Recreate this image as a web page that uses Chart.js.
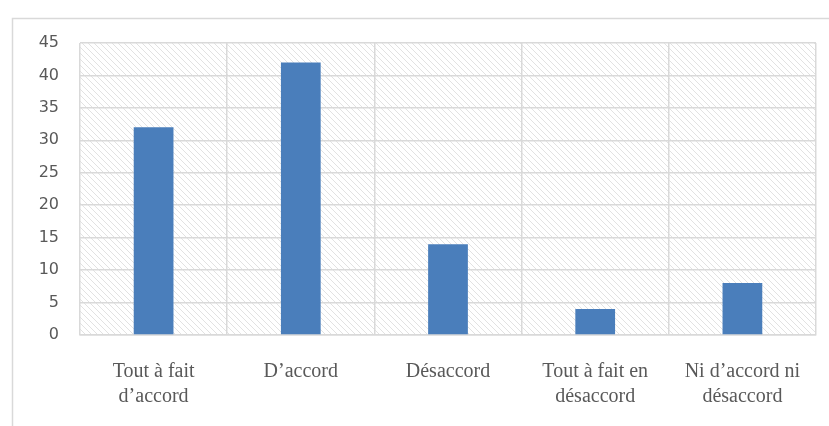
<!DOCTYPE html>
<html>
<head>
<meta charset="utf-8">
<script src="https://cdn.jsdelivr.net/npm/chart.js@4/dist/chart.umd.min.js"></script>
<style>
  html, body { margin: 0; padding: 0; background: #fff; }
  #wrap { width: 829px; height: 426px; position: relative; }
</style>
</head>
<body>
<div id="wrap"><canvas id="chart"></canvas></div>
<script>
var categories = [
    ["Tout à fait", "d’accord"],
    "D’accord",
    "Désaccord",
    ["Tout à fait en", "désaccord"],
    ["Ni d’accord ni", "désaccord"]
];
var values = [32, 42, 14, 4, 8];
var yTicks = [0, 5, 10, 15, 20, 25, 30, 35, 40, 45];

// hatched plot background + outer frame
var backdrop = {
    id: 'backdrop',
    beforeDraw: function(chart) {
        var ctx = chart.ctx, a = chart.chartArea;
        ctx.save();
        // outer frame (top and left edges)
        ctx.strokeStyle = '#d9d9d9';
        ctx.lineWidth = 1.5;
        ctx.beginPath();
        ctx.moveTo(12.5, 426);
        ctx.lineTo(12.5, 18.5);
        ctx.lineTo(829, 18.5);
        ctx.stroke();
        // diagonal hatch
        ctx.beginPath();
        ctx.rect(a.left, a.top, a.right - a.left, a.bottom - a.top);
        ctx.clip();
        ctx.strokeStyle = '#e2e2e2';
        ctx.lineWidth = 1;
        var h = a.bottom - a.top;
        ctx.beginPath();
        for (var x = a.left - h; x < a.right; x += 6) {
            ctx.moveTo(x, a.top);
            ctx.lineTo(x + h, a.bottom);
        }
        ctx.stroke();
        ctx.restore();
    }
};

var ctx = document.getElementById('chart').getContext('2d');
new Chart(ctx, {
    type: 'bar',
    data: {
        labels: categories,
        datasets: [{
            data: values,
            backgroundColor: '#4a7ebb',
            borderWidth: 0,
            categoryPercentage: 1,
            barPercentage: 0.27
        }]
    },
    options: {
        responsive: true,
        maintainAspectRatio: false,
        animation: false,
        layout: { padding: { left: 0, top: 43, right: 13, bottom: 0 } },
        plugins: {
            legend: { display: false },
            tooltip: { enabled: false }
        },
        scales: {
            x: {
                afterFit: function(axis) { axis.height = 91; },
                grid: { color: '#d9d9d9', lineWidth: 1.5, drawTicks: false, offset: true },
                border: { color: '#d9d9d9', width: 1.5 },
                ticks: {
                    color: '#595959',
                    font: { family: "'Liberation Serif', 'DejaVu Serif', serif", size: 20, lineHeight: 1.25 },
                    padding: 24,
                    maxRotation: 0,
                    autoSkip: false
                }
            },
            y: {
                min: 0,
                max: 45,
                afterBuildTicks: function(axis) {
                    axis.ticks = yTicks.map(function(v) { return { value: v }; });
                },
                afterFit: function(axis) { axis.width = 80; },
                grid: { color: '#d9d9d9', lineWidth: 1.5, drawTicks: false },
                border: { display: false },
                ticks: {
                    color: '#595959',
                    font: { family: "'DejaVu Sans', sans-serif", size: 16 },
                    padding: 21
                }
            }
        }
    },
    plugins: [backdrop]
});
</script>
</body>
</html>
